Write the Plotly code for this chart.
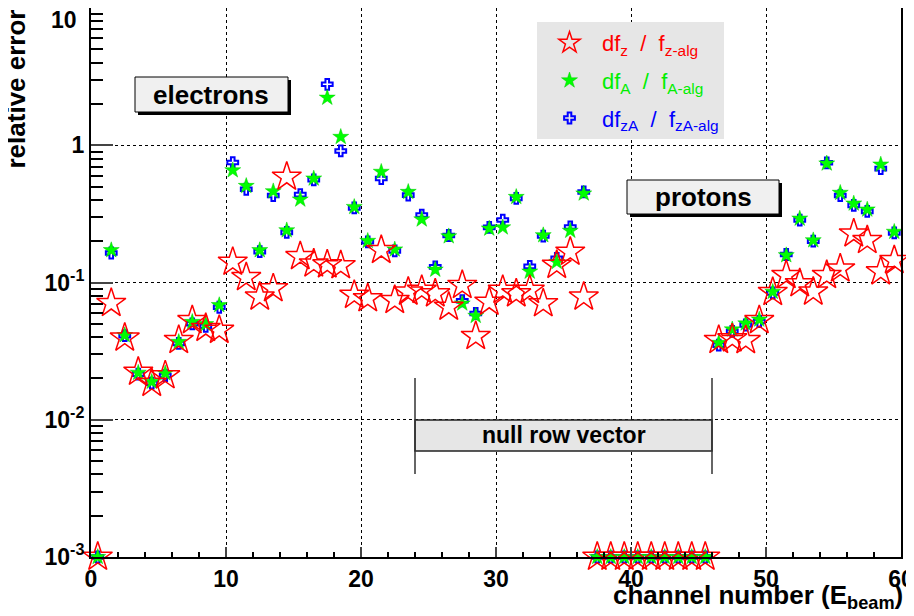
import plotly.graph_objects as go

# channel bins 0..59, points drawn at bin centres
channel = list(range(60))
bin_center = [c + 0.5 for c in channel]

# relative errors (0.001 = null row vector / bottom of axis)
df_z = [0.001, 0.0707, 0.0395, 0.0223, 0.0185, 0.021, 0.038, 0.053, 0.0465, 0.045,
        0.141, 0.109, 0.0786, 0.0904, 0.588, 0.155, 0.137, 0.135, 0.133, 0.081,
        0.0765, 0.172, 0.0743, 0.0855, 0.088, 0.083, 0.0664, 0.0956, 0.0406, 0.0722,
        0.088, 0.083, 0.088, 0.0703, 0.134, 0.167, 0.0786, 0.001, 0.001, 0.001,
        0.001, 0.001, 0.001, 0.001, 0.001, 0.001, 0.038, 0.039, 0.0379, 0.053,
        0.085, 0.113, 0.0984, 0.0855, 0.113, 0.126, 0.227, 0.203, 0.12, 0.145]
df_A = [0.001, 0.172, 0.0413, 0.022, 0.0189, 0.0218, 0.0369, 0.0516, 0.0497, 0.0684,
        0.657, 0.505, 0.172, 0.462, 0.240, 0.402, 0.572, 2.22, 1.15, 0.355,
        0.201, 0.64, 0.174, 0.457, 0.288, 0.124, 0.217, 0.0703, 0.0571, 0.247,
        0.252, 0.42, 0.12, 0.221, 0.141, 0.238, 0.445, 0.001, 0.001, 0.001,
        0.001, 0.001, 0.001, 0.001, 0.001, 0.001, 0.0363, 0.0455, 0.0503, 0.0537,
        0.0855, 0.158, 0.292, 0.203, 0.736, 0.45, 0.376, 0.34, 0.723, 0.234]
df_zA = [0.001, 0.164, 0.041, 0.0215, 0.0185, 0.021, 0.036, 0.05, 0.048, 0.066,
         0.748, 0.478, 0.168, 0.43, 0.232, 0.437, 0.56, 2.78, 0.909, 0.35,
         0.198, 0.572, 0.17, 0.433, 0.31, 0.13, 0.22, 0.0736, 0.0595, 0.252,
         0.285, 0.41, 0.131, 0.218, 0.15, 0.254, 0.457, 0.001, 0.001, 0.001,
         0.001, 0.001, 0.001, 0.001, 0.001, 0.001, 0.035, 0.044, 0.049, 0.052,
         0.084, 0.16, 0.285, 0.2, 0.745, 0.43, 0.365, 0.33, 0.676, 0.23]

x_ticks = [0, 10, 20, 30, 40, 50, 60]
y_ticks = [1e-3, 1e-2, 1e-1, 1, 10]
y_ticktext = ["10<sup>-3</sup>", "10<sup>-2</sup>", "10<sup>-1</sup>", "1", ""]  # "10" placed by hand below
y_minor = [k * 10 ** e for e in range(-3, 1) for k in range(2, 10)]

null_row_lo, null_row_hi = 24, 46

# page body has an 8px margin, so the figure is drawn 8px in and 8px down
OFF = 8
W, H = 914 - OFF, 616 - OFF
L, R, T, B = 91 - OFF, 13, 0, 59
FONT = "Liberation Sans"


def pp(x, y):
    # window pixel position -> paper coords
    x, y = x - OFF, y - OFF
    return (x - L) / (W - L - R), (H - B - y) / (H - T - B)


fig = go.Figure()
fig.add_trace(go.Scatter(x=bin_center, y=df_zA, mode="markers", legendrank=3, legendgroup="c",
                         name="<span style='color:#0000ff'>df<sub>zA</sub>  /  f<sub>zA-alg</sub></span>",
                         marker=dict(symbol="cross-open", size=9, color="#0000ff", line=dict(width=2)),
                         cliponaxis=False))
fig.add_trace(go.Scatter(x=bin_center, y=df_A, mode="markers", legendrank=2, legendgroup="b",
                         name="<span style='color:#00ee00'>df<sub>A</sub>  /  f<sub>A-alg</sub></span>",
                         marker=dict(symbol="star", size=12, color="#00ff00", line=dict(width=0.5, color="#00cc00")),
                         cliponaxis=False))
fig.add_trace(go.Scatter(x=bin_center, y=df_z, mode="markers", legendrank=1, legendgroup="a",
                         name="<span style='color:#ff0000'>df<sub>z</sub>  /  f<sub>z-alg</sub></span>",
                         marker=dict(symbol="star-open", size=22, color="#ff0000", line=dict(width=1.5)),
                         cliponaxis=False))

shapes = []
# electrons / protons boxes with shadow
for (x0, y0, x1, y1) in [(135, 77, 288, 112), (627, 180, 779, 214)]:
    a0, b0 = pp(x0 + 3, y0 + 3)
    a1, b1 = pp(x1 + 3, y1 + 3)
    shapes.append(dict(type="rect", xref="paper", yref="paper", x0=a0, y0=b0, x1=a1, y1=b1,
                       fillcolor="black", line=dict(width=0)))
    a0, b0 = pp(x0, y0)
    a1, b1 = pp(x1, y1)
    shapes.append(dict(type="rect", xref="paper", yref="paper", x0=a0, y0=b0, x1=a1, y1=b1,
                       fillcolor="#f0f0f0", line=dict(width=1, color="black")))
# null row vector
_, yb0 = pp(0, 420)
_, yb1 = pp(0, 451)
_, yl0 = pp(0, 378)
_, yl1 = pp(0, 474)
shapes.append(dict(type="rect", xref="x", yref="paper", x0=null_row_lo, x1=null_row_hi, y0=yb0, y1=yb1,
                   fillcolor="#e6e6e6", line=dict(width=1.5, color="#222")))
for xv in [null_row_lo, null_row_hi]:
    shapes.append(dict(type="line", xref="x", yref="paper", x0=xv, x1=xv, y0=yl0, y1=yl1,
                       line=dict(width=1.5, color="#333")))

ann = []
bold = dict(family=FONT, color="black", weight="bold")
ex, ey = pp(211, 95)
ann.append(dict(text="electrons", x=ex, y=ey, xref="paper", yref="paper", showarrow=False,
                xanchor="center", yanchor="middle", font=dict(size=26, **bold)))
px_, py_ = pp(703, 197)
ann.append(dict(text="protons", x=px_, y=py_, xref="paper", yref="paper", showarrow=False,
                xanchor="center", yanchor="middle", font=dict(size=26, **bold)))
_, ny = pp(0, 435)
ann.append(dict(text="null row vector", x=(null_row_lo + null_row_hi) / 2, y=ny, xref="x", yref="paper",
                xanchor="center", yanchor="middle", showarrow=False, font=dict(size=23, **bold)))
tx, ty = pp(905, 615)
ann.append(dict(text="channel number (E<sub>beam</sub>)", x=tx, y=ty, xref="paper", yref="paper",
                xanchor="right", yanchor="bottom", showarrow=False, font=dict(size=26, **bold)))
yx, yy = pp(15, 8)
ann.append(dict(text="relative error", x=yx, y=yy, xref="paper", yref="paper", textangle=-90,
                xanchor="center", yanchor="top", showarrow=False, font=dict(size=26, **bold)))
# top tick label "10" kept inside the page
tx10, ty10 = pp(79, 5)
ann.append(dict(text="10", x=tx10, y=ty10, xref="paper", yref="paper", xanchor="right", yanchor="top",
                showarrow=False, font=dict(size=23, **bold)))

lx, ly = pp(537, 22)
fig.update_layout(
    width=W, height=H,
    margin=dict(l=L, r=R, t=T, b=B),
    paper_bgcolor="white", plot_bgcolor="white",
    font=dict(family=FONT, color="black"),
    shapes=shapes, annotations=ann,
    showlegend=True,
    legend=dict(x=lx, y=ly, xanchor="left", yanchor="top", bgcolor="#e6e6e6", borderwidth=0,
                traceorder="grouped", tracegroupgap=6, font=dict(size=22, family=FONT),
                itemsizing="trace", itemwidth=55, entrywidth=160),
    xaxis=dict(range=[0, 60.0001], tickvals=x_ticks, ticks="inside", ticklen=10, tickwidth=1.5,
               tickfont=dict(size=23, **bold), showline=True, linewidth=2, linecolor="black",
               mirror=True, showgrid=True, gridcolor="black", griddash="dot", gridwidth=1,
               zeroline=False, automargin=False,
               minor=dict(dtick=2, ticks="inside", ticklen=5, tickcolor="black", showgrid=False)),
    yaxis=dict(type="log", range=[-3, 1.00001], tickvals=y_ticks, ticktext=y_ticktext, ticks="inside",
               ticklen=22, tickwidth=1.5, tickfont=dict(size=23, **bold), showline=True, linewidth=2,
               linecolor="black", mirror=True, showgrid=True, gridcolor="black", griddash="dot",
               gridwidth=1, zeroline=False, automargin=False,
               minor=dict(tickvals=y_minor, ticks="inside", ticklen=12, tickcolor="black",
                          showgrid=False)),
)

fig.write_html("out.html")
